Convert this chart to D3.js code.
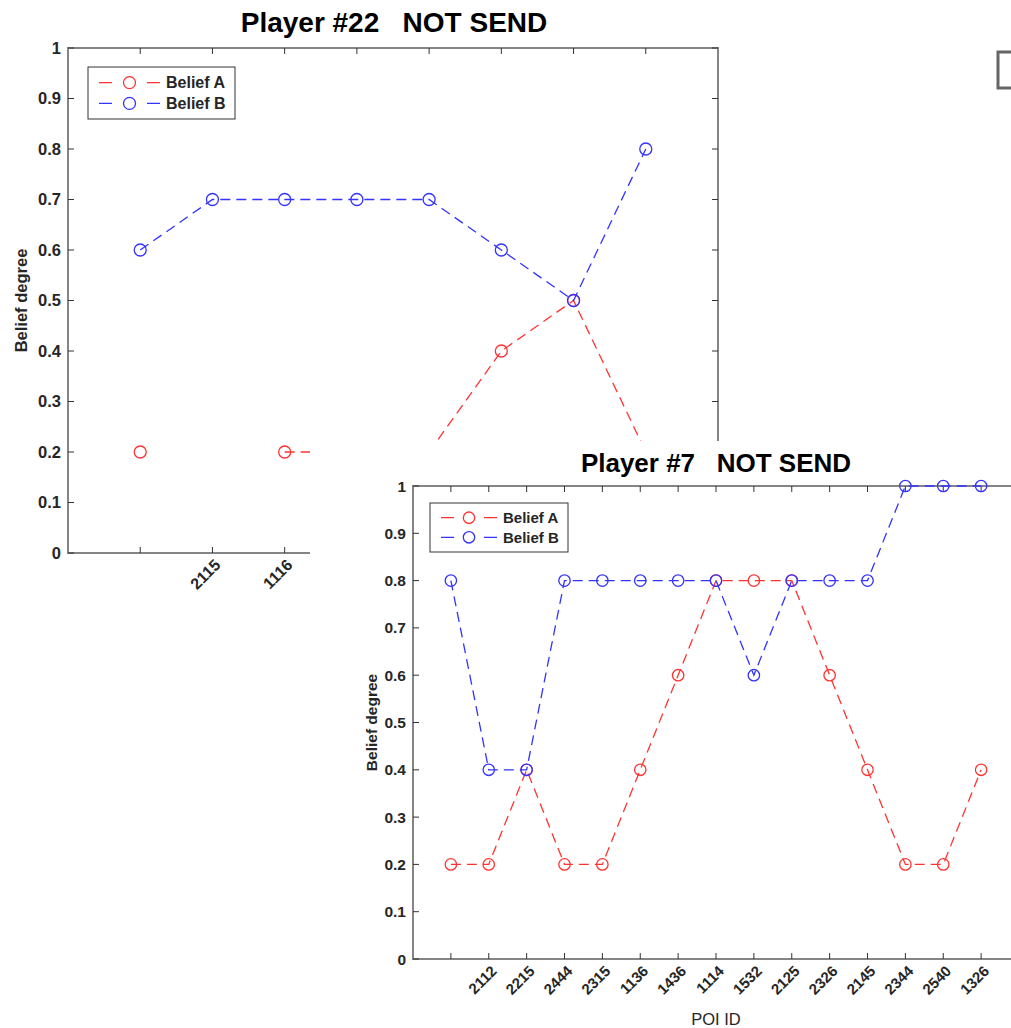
<!DOCTYPE html>
<html>
<head>
<meta charset="utf-8">
<script src="https://cdnjs.cloudflare.com/ajax/libs/d3/7.8.5/d3.min.js"></script>
<style>
    body { margin: 0; background: #fff; }
    svg text { font-family: 'Liberation Sans', Arial, sans-serif; font-weight: bold; fill: #262626; }
</style>
</head>
<body>
<div id="chart"></div>
<script>
// player #22 (back window), labels past the third tick are covered by the front window
const p22Ticks = ['', '2115', '1116', '', '', '', '', ''];
const p22BeliefA = [0.2, null, 0.2, 0.2, 0.2, 0.4, 0.5, 0.2];
const p22BeliefB = [0.6, 0.7, 0.7, 0.7, 0.7, 0.6, 0.5, 0.8];

// player #7 (front window)
const p7Ticks = ['', '2112', '2215', '2444', '2315', '1136', '1436', '1114',
    '1532', '2125', '2326', '2145', '2344', '2540', '1326'];
const p7BeliefA = [0.2, 0.2, 0.4, 0.2, 0.2, 0.4, 0.6, 0.8, 0.8, 0.8, 0.6, 0.4, 0.2, 0.2, 0.4];
const p7BeliefB = [0.8, 0.4, 0.4, 0.8, 0.8, 0.8, 0.8, 0.8, 0.6, 0.8, 0.8, 0.8, 1, 1, 1];

const yTicks = [0, 0.1, 0.2, 0.3, 0.4, 0.5, 0.6, 0.7, 0.8, 0.9, 1];
const seriesNames = ['Belief A', 'Belief B'];
const seriesColors = ['#ff3333', '#3333ff'];

const axisColor = '#858585';

let svg = d3.select('#chart').append('svg')
    .attr('width', 1011)
    .attr('height', 1028);

function drawFigure(o) {
    let g = svg.append('g');

    // window background
    g.append('rect')
        .attr('x', o.bg[0]).attr('y', o.bg[1])
        .attr('width', o.bg[2]).attr('height', o.bg[3])
        .attr('fill', '#fff');

    let n = o.ticks.length;
    let x = d3.scaleLinear().domain([0, n + 1]).range([o.left, o.right]);
    let y = d3.scaleLinear().domain([0, 1]).range([o.bottom, o.top]);
    let tl = o.tickLen;

    // axes box
    g.append('rect')
        .attr('x', o.left).attr('y', o.top)
        .attr('width', o.right - o.left).attr('height', o.bottom - o.top)
        .attr('fill', 'none')
        .attr('stroke', axisColor)
        .attr('stroke-width', 2);

    // y ticks, left and right
    yTicks.forEach(function(t) {
        g.append('line')
            .attr('x1', o.left).attr('x2', o.left + tl)
            .attr('y1', y(t)).attr('y2', y(t))
            .attr('stroke', '#333').attr('stroke-width', 1);
        g.append('line')
            .attr('x1', o.right).attr('x2', o.right - tl)
            .attr('y1', y(t)).attr('y2', y(t))
            .attr('stroke', '#333').attr('stroke-width', 1);
        g.append('text')
            .attr('x', o.left - 7)
            .attr('y', y(t) + o.fs * 0.36)
            .attr('text-anchor', 'end')
            .attr('font-size', o.fs)
            .text(t);
    });

    // x ticks, bottom and top
    o.ticks.forEach(function(lab, i) {
        let px = x(i + 1);
        g.append('line')
            .attr('x1', px).attr('x2', px)
            .attr('y1', o.bottom).attr('y2', o.bottom - tl)
            .attr('stroke', '#333').attr('stroke-width', 1);
        g.append('line')
            .attr('x1', px).attr('x2', px)
            .attr('y1', o.top).attr('y2', o.top + tl)
            .attr('stroke', '#333').attr('stroke-width', 1);
        g.append('text')
            .attr('transform', 'translate(' + (px + 9) + ',' + (o.bottom + 13) + ') rotate(-45)')
            .attr('text-anchor', 'end')
            .attr('font-size', o.fs - 0.5)
            .text(lab);
    });

    // series
    [o.a, o.b].forEach(function(vals, s) {
        let line = d3.line()
            .defined(function(d) { return d != null; })
            .x(function(d, i) { return x(i + 1); })
            .y(function(d) { return y(d); });
        g.append('path')
            .datum(vals)
            .attr('d', line)
            .attr('fill', 'none')
            .attr('stroke', seriesColors[s])
            .attr('stroke-width', 1.3)
            .attr('stroke-dasharray', '10,6');
        g.selectAll('.m' + s)
            .data(vals.map(function(d, i) { return [i, d]; }).filter(function(d) { return d[1] != null; }))
            .enter().append('circle')
            .attr('cx', function(d) { return x(d[0] + 1); })
            .attr('cy', function(d) { return y(d[1]); })
            .attr('r', o.r)
            .attr('fill', 'none')
            .attr('stroke', seriesColors[s])
            .attr('stroke-width', 1.3);
    });

    // title
    g.append('text')
        .attr('x', o.titleX).attr('y', o.titleY)
        .attr('text-anchor', 'middle')
        .attr('font-size', o.titleFs)
        .style('fill', '#000')
        .attr('xml:space', 'preserve')
        .text(o.title);

    // y label
    g.append('text')
        .attr('transform', 'translate(' + o.ylabX + ',' + ((o.top + o.bottom) / 2) + ') rotate(-90)')
        .attr('text-anchor', 'middle')
        .attr('font-size', o.fs)
        .text('Belief degree');

    if (o.xlab) {
        g.append('text')
            .attr('x', o.xlabX).attr('y', o.xlabY)
            .attr('text-anchor', 'middle')
            .attr('font-size', o.fs + 1)
            .style('font-weight', 'normal')
            .text(o.xlab);
    }

    // legend
    let lg = o.legend;
    g.append('rect')
        .attr('x', lg[0]).attr('y', lg[1])
        .attr('width', lg[2]).attr('height', lg[3])
        .attr('fill', '#fff')
        .attr('stroke', '#333')
        .attr('stroke-width', 1);
    seriesNames.forEach(function(name, s) {
        let ly = lg[1] + lg[3] * (0.3 + 0.4 * s);
        let x0 = lg[0] + 11;
        let w = o.legendLine;
        g.append('line')
            .attr('x1', x0).attr('x2', x0 + w)
            .attr('y1', ly).attr('y2', ly)
            .attr('stroke', seriesColors[s])
            .attr('stroke-width', 1.3)
            .attr('stroke-dasharray', '13,' + (w - 26));
        g.append('circle')
            .attr('cx', x0 + w / 2).attr('cy', ly)
            .attr('r', o.r)
            .attr('fill', 'none')
            .attr('stroke', seriesColors[s])
            .attr('stroke-width', 1.3);
        g.append('text')
            .attr('x', x0 + w + 6)
            .attr('y', ly + 5.5)
            .attr('font-size', o.fs - 0.5)
            .text(name);
    });
}

drawFigure({
    bg: [0, 0, 1011, 1028],
    left: 68, right: 718, top: 48, bottom: 553,
    tickLen: 6, fs: 16.5, r: 6,
    ticks: p22Ticks, a: p22BeliefA, b: p22BeliefB,
    title: 'Player #22   NOT SEND', titleX: 394, titleY: 32, titleFs: 28,
    ylabX: 27,
    legend: [88, 67, 147, 52], legendLine: 61
});

// small corner of another window at top right
svg.append('path')
    .attr('d', 'M1011,52 H998 V88 H1011')
    .attr('fill', 'none')
    .attr('stroke', '#666')
    .attr('stroke-width', 3);

drawFigure({
    bg: [310, 441, 701, 587],
    left: 413, right: 1019, top: 486, bottom: 959,
    tickLen: 6, fs: 15.5, r: 5.7,
    ticks: p7Ticks, a: p7BeliefA, b: p7BeliefB,
    title: 'Player #7   NOT SEND', titleX: 716, titleY: 472, titleFs: 26,
    ylabX: 377,
    xlab: 'POI ID', xlabX: 716, xlabY: 1025,
    legend: [430, 503, 138, 49], legendLine: 56
});
</script>
</body>
</html>
